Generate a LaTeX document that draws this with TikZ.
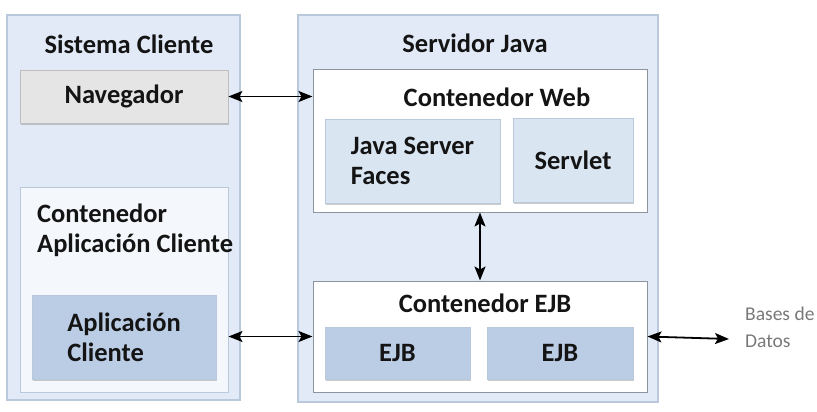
\documentclass[tikz,border=0pt]{standalone}
\usepackage{fontspec}
\setmainfont{Carlito}
\usetikzlibrary{arrows.meta, positioning, shadows}
\definecolor{outerblue}{RGB}{225,234,246}
\definecolor{outerline}{RGB}{186,200,220}
\definecolor{navgray}{RGB}{229,229,229}
\definecolor{navline}{RGB}{190,190,190}
\definecolor{appwhite}{RGB}{244,247,251}
\definecolor{midblue}{RGB}{186,205,229}
\definecolor{paleblue}{RGB}{218,229,242}
\definecolor{boxline}{RGB}{140,148,160}
\definecolor{txtdark}{RGB}{20,20,20}
\definecolor{dbgray}{RGB}{120,120,120}
\newcommand{\boxfont}{\bfseries\fontsize{26.5}{30}\selectfont}

\begin{document}
\begin{tikzpicture}[
  x=1pt, y=-1pt,
  outerbox/.style={rectangle, draw=outerline, fill=outerblue, line width=1.4pt},
  contbox/.style={rectangle, draw=boxline, fill=white, line width=1pt,
               drop shadow={shadow xshift=1pt, shadow yshift=-1.2pt, opacity=0.35}},
  innerbox/.style={rectangle, draw=outerline, line width=0.8pt, align=left,
               font=\boxfont, text=txtdark,
               drop shadow={shadow xshift=1pt, shadow yshift=-1.5pt, opacity=0.4}},
  title/.style={font=\boxfont, text=txtdark},
  arr/.style={<->, >={Stealth[length=14pt, width=11pt, inset=3pt]}, line width=1.8pt, color=black}
]
  \useasboundingbox (0,0) rectangle (817,412);

  % sistema cliente
  \node[outerbox, minimum width=233pt, minimum height=385pt] (cliente) at (123.5,207.5) {};
  \node[title] (clientetit) at (129,44) {Sistema Cliente};
  \node[innerbox, fill=navgray, draw=navline, minimum width=208pt, minimum height=53pt] (navegador) at (124,96.5) {Navegador};
  \node[rectangle, draw=outerline, fill=appwhite, line width=1pt, minimum width=208pt, minimum height=205pt,
        drop shadow={shadow xshift=1pt, shadow yshift=-1.2pt, opacity=0.3}] (contapp) at (124,289.5) {};
  \node[title, anchor=north west, align=left, inner sep=0pt] (contapptit) at (37,204) {Contenedor\\Aplicación Cliente};
  \node[innerbox, fill=midblue, minimum width=184pt, minimum height=84pt] (aplicacion) at (124,337) {Aplicación\\Cliente};

  % servidor java
  \node[outerbox, minimum width=360pt, minimum height=387pt] (servidor) at (478,208.5) {};
  \node[title] (servidortit) at (475,43) {Servidor Java};
  \node[contbox, minimum width=334pt, minimum height=142pt] (web) at (480,141) {};
  \node[title] (webtit) at (497,97) {Contenedor Web};
  \node[innerbox, fill=paleblue, minimum width=175pt, minimum height=84pt] (jsf) at (412.5,161) {Java Server\\Faces};
  \node[innerbox, fill=paleblue, minimum width=120pt, minimum height=84pt] (servlet) at (573,160) {Servlet};
  \node[contbox, minimum width=334pt, minimum height=111pt] (ejbcont) at (480,336.5) {};
  \node[title] (ejbtit) at (485,303) {Contenedor EJB};
  \node[innerbox, fill=midblue, minimum width=145pt, minimum height=52pt] (ejbuno) at (397.5,353) {EJB};
  \node[innerbox, fill=midblue, minimum width=146pt, minimum height=52pt] (ejbdos) at (560,353) {EJB};

  % bases de datos
  \node[anchor=west, align=left, inner sep=0pt, text=dbgray, font=\fontsize{19.5}{27}\selectfont] (bd) at (745,327) {Bases de\\Datos};
  \coordinate (bdend) at (729,339);

  \draw[arr] (navegador.east) -- (navegador.east -| web.west);
  \draw[arr] (ejbcont.west -| contapp.east) -- (ejbcont.west);
  \draw[arr] (web.south) -- (ejbcont.north);
  \draw[arr] (ejbcont.east) -- (bdend);
\end{tikzpicture}
\end{document}
